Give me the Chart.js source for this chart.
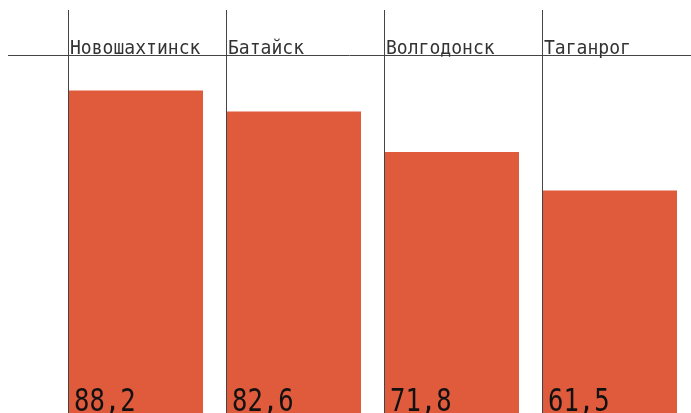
<!DOCTYPE html>
<html><head><meta charset="utf-8">
<script src="https://cdn.jsdelivr.net/npm/chart.js@4/dist/chart.umd.min.js"></script>
<style>html,body{margin:0;padding:0;background:#fff;overflow:hidden}#wrap{width:691px;height:413px;overflow:hidden}</style>
</head><body><div id="wrap"><canvas id="c" width="691" height="421"></canvas></div>
<script>
const categories = ["Новошахтинск", "Батайск", "Волгодонск", "Таганрог"];
const values = [88.2, 82.6, 71.8, 61.5];
const valueLabels = ["88,2", "82,6", "71,8", "61,5"];

const deco = {
  id: 'deco',
  afterDatasetsDraw(chart) {
    const ctx = chart.ctx, ca = chart.chartArea;
    const bars = chart.getDatasetMeta(0).data;
    ctx.save();
    ctx.strokeStyle = '#444';
    ctx.lineWidth = 1;
    ctx.beginPath();
    ctx.moveTo(8, Math.round(ca.top) + 0.5);
    ctx.lineTo(691, Math.round(ca.top) + 0.5);
    ctx.stroke();
    bars.forEach((b, i) => {
      const left = b.x - b.width / 2;
      const lx = Math.round(left) + 0.5;
      ctx.beginPath();
      ctx.moveTo(lx, 10);
      ctx.lineTo(lx, ca.bottom);
      ctx.stroke();
      // category label
      ctx.save();
      ctx.fillStyle = '#333';
      ctx.font = '19px "DejaVu Sans Mono"';
      ctx.textBaseline = 'alphabetic';
      ctx.translate(Math.round(left) + 2, 54);
      ctx.scale(0.95, 1);
      ctx.fillText(categories[i], 0, 0);
      ctx.restore();
      // value label
      ctx.save();
      ctx.fillStyle = '#111';
      ctx.font = '32px "DejaVu Sans Mono"';
      ctx.translate(Math.round(left) + 6, 411);
      ctx.scale(0.8, 1);
      ctx.fillText(valueLabels[i], 0, 0);
      ctx.restore();
    });
    ctx.restore();
  }
};

new Chart(document.getElementById('c'), {
  type: 'bar',
  data: { labels: categories, datasets: [{ data: values, backgroundColor: '#E05A3C', borderWidth: 0, categoryPercentage: 1, barPercentage: 135/158 }] },
  options: {
    responsive: false, animation: false,
    layout: { padding: { left: 56.5, right: 2.5, top: 55, bottom: 0 } },
    plugins: { legend: { display: false }, tooltip: { enabled: false } },
    scales: {
      x: { display: false },
      y: { display: false, min: 0, max: 97.7 }
    }
  },
  plugins: [deco]
});
</script></body></html>
